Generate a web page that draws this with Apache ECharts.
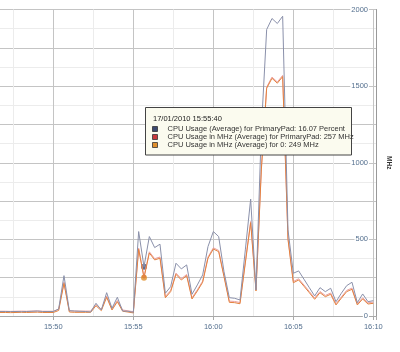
<!DOCTYPE html>
<html>
<head>
<meta charset="utf-8">
<title>CPU Usage</title>
<script src="https://cdn.jsdelivr.net/npm/echarts@6/dist/echarts.min.js"></script>
<style>html,body{margin:0;padding:0;background:#fff;}</style>
</head>
<body>
<div id="main" style="width:400px;height:352px;"></div>
<script>
// samples every 20 s, first one at 15:46:40 (seconds after 15:00)
var startSec = 2800;
var stepSec = 20;

// CPU Usage (Average) for PrimaryPad, percent (left axis, off screen)
var cpuPercent = [1.47, 1.47, 1.45, 1.47, 1.41, 1.47, 1.54, 1.63, 1.47, 1.47, 1.47, 2.29, 13.17, 1.73, 1.63, 1.54, 1.47, 1.31, 4.15, 1.96,
    7.61, 2.52, 6.11, 1.63, 1.54, 1.21, 27.55, 16.07, 25.92, 22.32, 23.43, 7.42, 9.58, 17.22, 15.36, 16.67, 7.09, 10.13, 13.40, 22.65,
    27.55, 25.92, 14.48, 5.98, 5.78, 5.23, 21.57, 38.14, 8.50, 60.78, 93.46, 97.06, 95.43, 97.81, 28.1, 13.95, 14.71, 11.99, 9.25, 6.54,
    9.25, 7.94, 9.05, 4.67, 7.42, 9.90, 11.01, 4.35, 7.19, 4.67, 5.00];
// CPU Usage in MHz (Average) for PrimaryPad
var mhzPad = [31, 31, 30, 31, 32, 31, 32, 33, 31, 31, 31, 44, 221, 34, 32, 32, 32, 32, 75, 43,
    130, 47, 101, 39, 34, 28, 443, 257, 419, 374, 385, 127, 167, 280, 243, 271, 119, 171, 228, 385,
    445, 428, 265, 97, 95, 88, 354, 617, 171, 961, 1494, 1559, 1527, 1570, 508, 225, 243, 202, 160, 117,
    160, 134, 150, 80, 124, 167, 182, 80, 119, 86, 91];
// CPU Usage in MHz (Average) for 0
var mhzZero = [23, 23, 22, 23, 24, 23, 24, 25, 23, 23, 23, 36, 213, 26, 24, 24, 24, 24, 67, 35,
    122, 39, 93, 31, 26, 20, 435, 249, 411, 366, 377, 119, 159, 272, 235, 263, 111, 163, 220, 377,
    437, 420, 257, 89, 87, 80, 346, 609, 163, 953, 1486, 1551, 1519, 1562, 500, 217, 235, 194, 152, 109,
    152, 126, 142, 72, 116, 159, 174, 72, 111, 78, 83];

var seriesNames = ['CPU Usage (Average) for PrimaryPad', 'CPU Usage in MHz (Average) for PrimaryPad', 'CPU Usage in MHz (Average) for 0'];
var seriesUnits = ['Percent', 'MHz', 'MHz'];
var keyColors = ['#3d4a70', '#c8383c', '#e0902c'];
var lineColors = ['#8a90aa', '#eaa0a0', '#e3813e'];
var tipIndex = 27;
var tipTitle = '17/01/2010 15:55:40';

var font = '"Liberation Sans", Arial, sans-serif';

function pairs(arr) {
    return arr.map(function (v, i) { return [startSec + i * stepSec, v]; });
}
function hhmm(sec) {
    var h = 15 + Math.floor(sec / 3600);
    var m = Math.floor((sec % 3600) / 60);
    return h + ':' + (m < 10 ? '0' + m : m);
}

var myChart = echarts.init(document.getElementById('main'));

var tipData = [cpuPercent[tipIndex], mhzPad[tipIndex], mhzZero[tipIndex]];
var tipGraphic = [{
    type: 'rect', z: 100,
    shape: {x: 145.5, y: 107.5, width: 206, height: 47.5},
    style: {fill: '#fbfbef', stroke: '#444', lineWidth: 1}
}, {
    type: 'text', z: 101, x: 153, y: 119,
    style: {text: tipTitle, fill: '#222', font: '7.5px ' + font, verticalAlign: 'middle'}
}];
for (var k = 0; k < 3; k++) {
    tipGraphic.push({
        type: 'rect', z: 101,
        shape: {x: 152.5, y: 126.5 + k * 8, width: 5, height: 5},
        style: {fill: keyColors[k], stroke: '#333', lineWidth: 0.8}
    });
    tipGraphic.push({
        type: 'text', z: 101, x: 167.5, y: 129.3 + k * 7.8,
        style: {text: seriesNames[k] + ': ' + tipData[k] + ' ' + seriesUnits[k], fill: '#333', font: '7.5px ' + font, verticalAlign: 'middle'}
    });
}

var option = {
    animation: false,
    grid: {left: -26.67, right: 24, top: 9.5, bottom: 36, outerBoundsMode: 'none', containLabel: false},
    xAxis: [{
        type: 'value', min: 2700, max: 4210, interval: 150,
        axisLine: {show: true, lineStyle: {color: '#a8a8a8'}},
        axisTick: {show: false},
        axisLabel: {show: false},
        splitLine: {show: true, lineStyle: {color: ['#c4c4c4', '#ececec'], width: 1}}
    }, {
        type: 'value', min: 2700, max: 4210, interval: 300, position: 'bottom',
        axisLine: {show: false},
        axisTick: {show: true, length: 4, lineStyle: {color: '#aaa'}},
        axisLabel: {
            margin: 7, color: '#55708f', fontSize: 7.5, fontFamily: font,
            formatter: function (v) { return v % 300 === 0 ? hhmm(v) : ''; }
        },
        splitLine: {show: false}
    }],
    yAxis: [{
        type: 'value', position: 'right', min: 0, max: 2000, interval: 125,
        axisLine: {show: true, lineStyle: {color: '#999'}},
        axisTick: {show: false},
        axisLabel: {show: false},
        splitLine: {show: true, lineStyle: {color: ['#c4c4c4', '#ececec'], width: 1}}
    }, {
        type: 'value', position: 'right', min: 0, max: 2000, interval: 500,
        name: 'MHz', nameLocation: 'middle', nameRotate: -90, nameGap: 9,
        nameTextStyle: {fontSize: 6.5, fontWeight: 'bold', color: '#333', fontFamily: font},
        axisLine: {show: false},
        axisTick: {show: false},
        axisLabel: {
            inside: true, margin: 7, color: '#55708f', fontSize: 7.5, fontFamily: font,
            backgroundColor: '#fff', padding: [0, 1],
            formatter: function (v) { return String(v); }
        },
        splitLine: {show: false}
    }, {
        type: 'value', position: 'left', min: 0, max: 100, show: false
    }],
    series: [{
        name: seriesNames[1], type: 'line', xAxisIndex: 0, yAxisIndex: 0,
        data: pairs(mhzPad), symbol: 'none', silent: true,
        lineStyle: {color: lineColors[1], width: 1}
    }, {
        name: seriesNames[2], type: 'line', xAxisIndex: 0, yAxisIndex: 0,
        data: pairs(mhzZero), symbol: 'none', silent: true,
        lineStyle: {color: lineColors[2], width: 1}
    }, {
        name: seriesNames[0], type: 'line', xAxisIndex: 0, yAxisIndex: 2,
        data: pairs(cpuPercent), symbol: 'none', silent: true,
        lineStyle: {color: lineColors[0], width: 1}
    }, {
        type: 'scatter', xAxisIndex: 0, yAxisIndex: 2, silent: true, symbolSize: 6,
        data: [[startSec + tipIndex * stepSec, cpuPercent[tipIndex]]],
        itemStyle: {color: keyColors[0]}
    }, {
        type: 'scatter', xAxisIndex: 0, yAxisIndex: 0, silent: true, symbolSize: 4,
        data: [[startSec + tipIndex * stepSec, mhzPad[tipIndex]]],
        itemStyle: {color: keyColors[1]}
    }, {
        type: 'scatter', xAxisIndex: 0, yAxisIndex: 0, silent: true, symbolSize: 6,
        data: [[startSec + tipIndex * stepSec, mhzZero[tipIndex]]],
        itemStyle: {color: keyColors[2]}
    }],
    graphic: tipGraphic
};

myChart.setOption(option);
</script>
</body>
</html>
